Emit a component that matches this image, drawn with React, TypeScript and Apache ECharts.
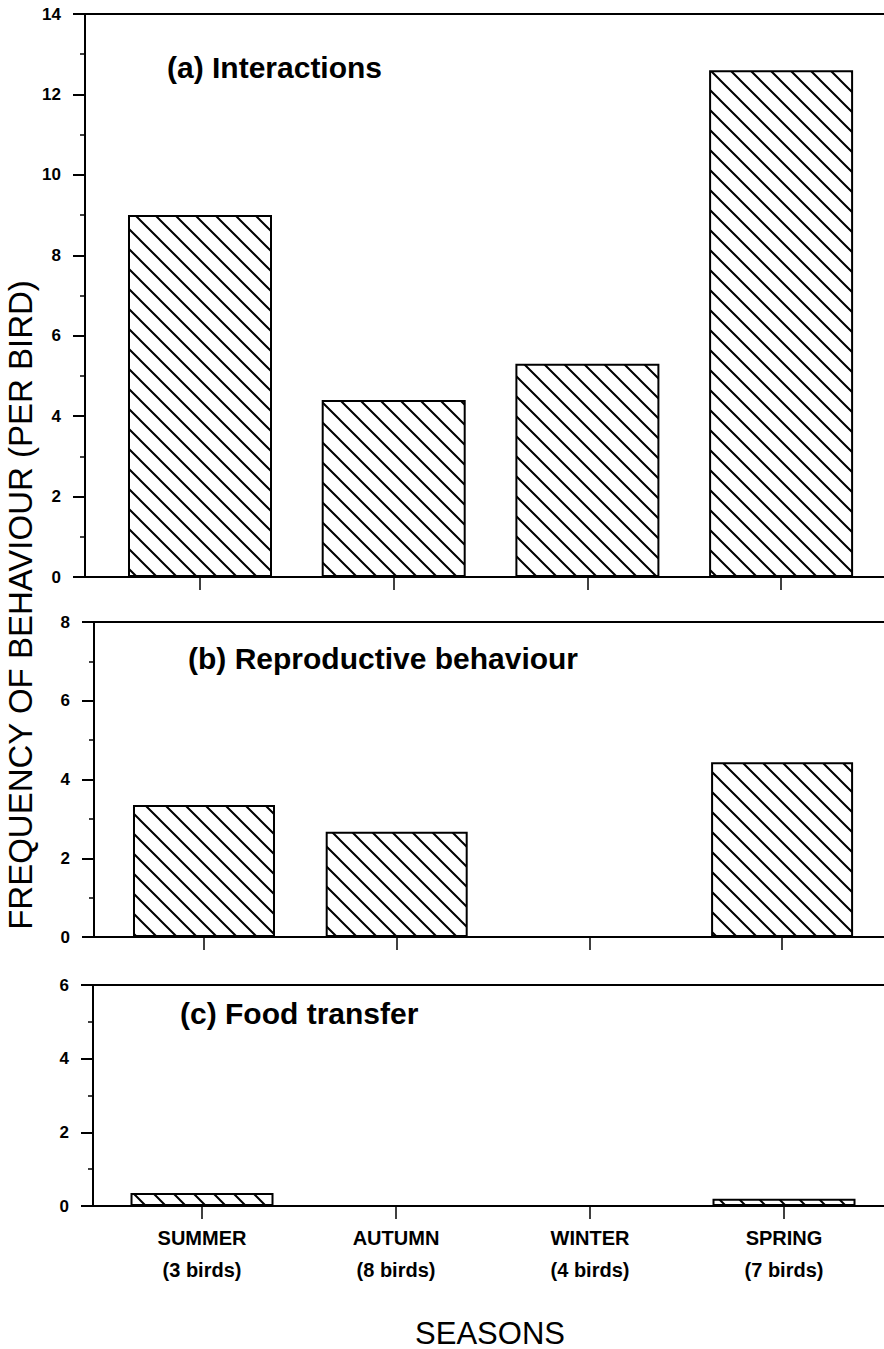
import React, { useEffect, useRef } from "react";
import * as echarts from "echarts";

const seasons = ["SUMMER", "AUTUMN", "WINTER", "SPRING"];
const birdCounts = ["(3 birds)", "(8 birds)", "(4 birds)", "(7 birds)"];
const interactions = [9.0, 4.4, 5.3, 12.6];
const reproductive = [3.35, 2.67, 0, 4.44];
const foodTransfer = [0.35, 0, 0, 0.2];
const panelTitles = ["(a) Interactions", "(b) Reproductive behaviour", "(c) Food transfer"];
const yMax = [14, 8, 6];
const yTitle = "FREQUENCY OF BEHAVIOUR (PER BIRD)";
const xTitle = "SEASONS";

const FONT = '"Liberation Sans", Arial, Helvetica, sans-serif';

function makeHatch() {
  const s = 20;
  const c = document.createElement("canvas");
  c.width = s;
  c.height = s;
  const g = c.getContext("2d")!;
  g.fillStyle = "#fff";
  g.fillRect(0, 0, s, s);
  g.strokeStyle = "#000";
  g.lineWidth = 2;
  g.beginPath();
  g.moveTo(-2, -2);
  g.lineTo(s + 2, s + 2);
  g.moveTo(-2, s - 2);
  g.lineTo(2, s + 2);
  g.moveTo(s - 2, -2);
  g.lineTo(s + 2, 2);
  g.stroke();
  return c;
}

export default function App() {
  const ref = useRef<HTMLDivElement>(null);
  useEffect(() => {
    if (!ref.current) return;
    const chart = echarts.init(ref.current, null, { renderer: "svg" });
    const hatch = { image: makeHatch(), repeat: "repeat" };
    const panels = [
      { left: 85, top: 14, height: 563, min: -0.5937, step: 193.7, barW: 144, data: interactions },
      { left: 94, top: 622, height: 315, min: -0.5708, step: 192.7, barW: 142, data: reproductive },
      { left: 93, top: 985, height: 221, min: -0.5619, step: 194, barW: 143, data: foodTransfer },
    ];
    const rightEdge = 930;
    const grid = panels.map((p) => ({
      left: p.left,
      top: p.top,
      height: p.height,
      width: rightEdge - p.left,
      show: true,
      borderColor: "#000",
      borderWidth: 2,
      backgroundColor: "transparent",
    }));
    const ticks = [0, 1, 2, 3];
    const xAxis = panels.map((p, i) => ({
      type: "value",
      gridIndex: i,
      min: p.min,
      max: p.min + (rightEdge - p.left) / p.step,
      axisLine: { show: true, onZero: false, lineStyle: { color: "#000", width: 2 } },
      axisTick: {
        show: true,
        customValues: ticks,
        length: 13,
        lineStyle: { color: "#000", width: 1.5 },
      },
      axisLabel: {
        show: i === 2,
        customValues: ticks,
        margin: 16,
        formatter: (v: number) => {
          const k = Math.round(v);
          return seasons[k] + "\n" + birdCounts[k];
        },
        color: "#000",
        fontFamily: FONT,
        fontWeight: "bold",
        fontSize: 20,
        lineHeight: 32,
      },
      splitLine: { show: false },
    }));
    const yAxis = panels.map((p, i) => ({
      type: "value",
      gridIndex: i,
      min: 0,
      max: yMax[i],
      interval: 2,
      axisLine: { show: true, onZero: false, lineStyle: { color: "#000", width: 2 } },
      axisTick: { show: true, length: 12, lineStyle: { color: "#000", width: 2 } },
      minorTick: { show: true, splitNumber: 2, length: 5, lineStyle: { color: "#000", width: 1.5 } },
      axisLabel: {
        margin: 24,
        color: "#000",
        fontFamily: FONT,
        fontWeight: "bold",
        fontSize: 17,
      },
      splitLine: { show: false },
      minorSplitLine: { show: false },
    }));
    const series = panels.map((p, i) => ({
      type: "bar",
      xAxisIndex: i,
      yAxisIndex: i,
      barWidth: p.barW,
      data: p.data.map((v, k) => [k, v]),
      itemStyle: { color: hatch, borderColor: "#000", borderWidth: 2 },
      silent: true,
    }));
    const titlePos = [
      { x: 167, y: 67 },
      { x: 188, y: 658 },
      { x: 180, y: 1013 },
    ];
    const graphic: any[] = titlePos.map((t, i) => ({
      type: "text",
      x: t.x,
      y: t.y,
      style: {
        text: panelTitles[i],
        font: `bold 30px ${FONT}`,
        fill: "#000",
        textAlign: "left",
        textVerticalAlign: "middle",
        align: "left",
        verticalAlign: "middle",
      },
    }));
    graphic.push({
      type: "text",
      x: 20,
      y: 605,
      rotation: Math.PI / 2,
      style: {
        text: yTitle,
        font: `33px ${FONT}`,
        fill: "#000",
        textAlign: "center",
        textVerticalAlign: "middle",
        align: "center",
        verticalAlign: "middle",
      },
    });
    graphic.push({
      type: "text",
      x: 490,
      y: 1333,
      style: {
        text: xTitle,
        font: `31px ${FONT}`,
        fill: "#000",
        textAlign: "center",
        textVerticalAlign: "middle",
        align: "center",
        verticalAlign: "middle",
      },
    });
    chart.setOption({
      animation: false,
      backgroundColor: "#fff",
      grid,
      xAxis,
      yAxis,
      series,
      graphic,
    } as any);
    return () => chart.dispose();
  }, []);
  return (
    <div
      style={{
        position: "absolute",
        left: 0,
        top: 0,
        width: 884,
        height: 1349,
        overflow: "hidden",
        background: "#fff",
      }}
    >
      <div ref={ref} style={{ width: 940, height: 1349 }} />
    </div>
  );
}
